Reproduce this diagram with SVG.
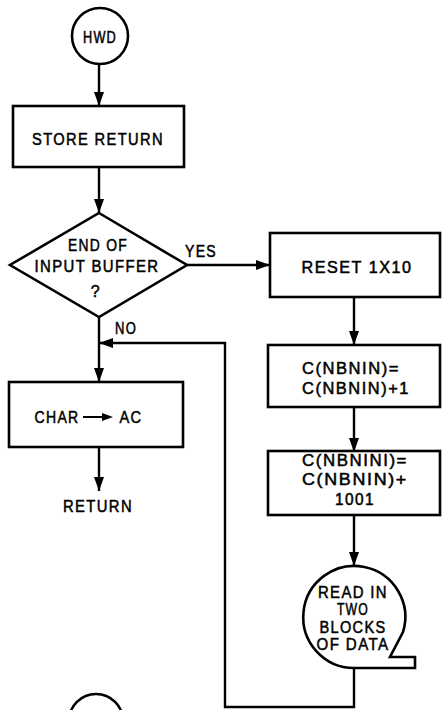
<svg xmlns="http://www.w3.org/2000/svg" width="442" height="710" viewBox="0 0 442 710">
<style>
.s{fill:none;stroke:#000;stroke-width:2.4}
.b{fill:#fff;stroke:#000;stroke-width:2.6}
.t{font-family:"Liberation Sans",Arial,sans-serif;font-size:16px;letter-spacing:1.5px;fill:#000;stroke:#000;stroke-width:0.5;text-anchor:middle}
</style>
<defs>
<marker id="ah" viewBox="0 0 14 10" refX="14" refY="5" markerWidth="14" markerHeight="10" markerUnits="userSpaceOnUse" orient="auto">
<path d="M0,0 L14,5 L0,10 Z" fill="#000"/>
</marker>
</defs>
<g id="connectors">
<line class="s" x1="99" y1="64" x2="99" y2="106" marker-end="url(#ah)"/>
<line class="s" x1="99" y1="167" x2="99" y2="213" marker-end="url(#ah)"/>
<line class="s" x1="187" y1="265" x2="270" y2="265" marker-end="url(#ah)"/>
<line class="s" x1="99" y1="317" x2="99" y2="382" marker-end="url(#ah)"/>
<line class="s" x1="354" y1="297" x2="354" y2="345" marker-end="url(#ah)"/>
<line class="s" x1="354" y1="407" x2="354" y2="452" marker-end="url(#ah)"/>
<line class="s" x1="354" y1="515" x2="354" y2="566" marker-end="url(#ah)"/>
<polyline class="s" points="354,668 354,707 225,707 225,343 99,343" marker-end="url(#ah)"/>
<line class="s" x1="99" y1="447" x2="99" y2="491" marker-end="url(#ah)"/>
<text class="t" x="201" y="257" textLength="32" lengthAdjust="spacingAndGlyphs">YES</text>
<text class="t" x="126" y="334" textLength="22" lengthAdjust="spacingAndGlyphs">NO</text>
</g>
<g id="hwd">
<circle class="b" cx="100" cy="36" r="28"/>
<text class="t" x="100" y="43" textLength="34" lengthAdjust="spacingAndGlyphs">HWD</text>
</g>
<g id="store-return">
<rect class="b" x="13" y="106" width="171" height="61"/>
<text class="t" x="98" y="145" textLength="132" lengthAdjust="spacingAndGlyphs">STORE RETURN</text>
</g>
<g id="end-of-buffer">
<polygon class="b" points="99,213 187,265 99,317 10,265"/>
<text class="t" x="98" y="251" textLength="60" lengthAdjust="spacingAndGlyphs">END OF</text>
<text class="t" x="97" y="272" textLength="125" lengthAdjust="spacingAndGlyphs">INPUT BUFFER</text>
<text class="t" x="96" y="297">?</text>
</g>
<g id="char-ac">
<rect class="b" x="9" y="382" width="174" height="65"/>
<text class="t" x="57" y="423" textLength="45" lengthAdjust="spacingAndGlyphs">CHAR</text>
<line x1="83" y1="417" x2="104" y2="417" stroke="#000" stroke-width="2"/>
<path d="M102,413 L113,417 L102,421 Z" fill="#000"/>
<text class="t" x="131" y="423" textLength="23" lengthAdjust="spacingAndGlyphs">AC</text>
</g>
<g id="return">
<text class="t" x="98" y="512" textLength="70" lengthAdjust="spacingAndGlyphs">RETURN</text>
</g>
<g id="reset">
<rect class="b" x="270" y="233" width="170" height="64"/>
<text class="t" x="357" y="273" textLength="111" lengthAdjust="spacingAndGlyphs">RESET 1X10</text>
</g>
<g id="inc-nbnin">
<rect class="b" x="268" y="345" width="172" height="62"/>
<text class="t" x="351" y="374" textLength="98" lengthAdjust="spacingAndGlyphs">C(NBNIN)=</text>
<text class="t" x="356" y="394" textLength="108" lengthAdjust="spacingAndGlyphs">C(NBNIN)+1</text>
</g>
<g id="add-1001">
<rect class="b" x="268" y="451" width="172" height="64"/>
<text class="t" x="355" y="466" textLength="106" lengthAdjust="spacingAndGlyphs">C(NBNINI)=</text>
<text class="t" x="355" y="485" textLength="106" lengthAdjust="spacingAndGlyphs">C(NBNIN)+</text>
<text class="t" x="355" y="505" textLength="40" lengthAdjust="spacingAndGlyphs">1001</text>
</g>
<g id="read-tape">
<path class="b" d="M403,632 A51,51 0 1 0 354,668 L415,668 L415,657 L390,657 Z"/>
<text class="t" x="353" y="598" textLength="70" lengthAdjust="spacingAndGlyphs">READ IN</text>
<text class="t" x="353" y="615" textLength="32" lengthAdjust="spacingAndGlyphs">TWO</text>
<text class="t" x="353" y="633" textLength="67" lengthAdjust="spacingAndGlyphs">BLOCKS</text>
<text class="t" x="353" y="650" textLength="73" lengthAdjust="spacingAndGlyphs">OF DATA</text>
</g>
<g id="offpage">
<circle class="b" cx="96" cy="721" r="27"/>
</g>
</svg>
